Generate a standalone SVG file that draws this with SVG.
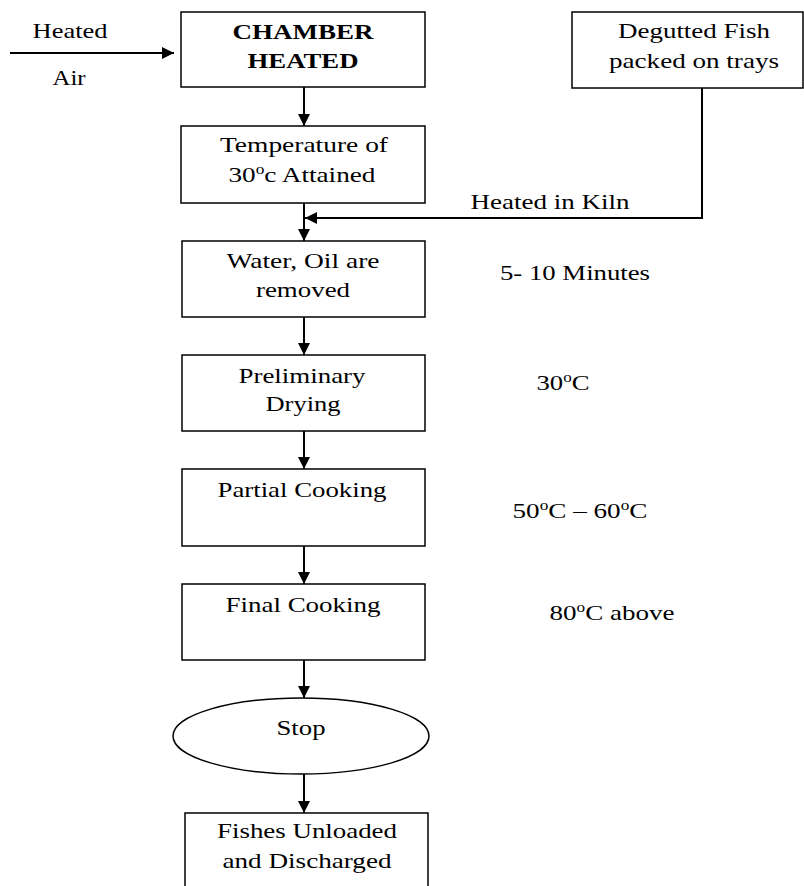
<svg xmlns="http://www.w3.org/2000/svg" width="804" height="886" viewBox="0 0 804 886">
<style>
text{font-family:"Liberation Serif","Times New Roman",serif;font-size:22px;fill:#000;text-anchor:middle}
.b{font-weight:bold}
.box{fill:#fff;stroke:#000;stroke-width:1.5}
.con{fill:none;stroke:#000;stroke-width:2}
.sup{font-size:14px}
</style>
<defs>
<marker id="ah" markerUnits="userSpaceOnUse" markerWidth="12" markerHeight="12" viewBox="0 0 12 12" refX="12" refY="6" orient="auto">
<path d="M0,0 L12,6 L0,12 z" fill="#000"/>
</marker>
</defs>
<g id="connectors">
<line class="con" x1="10" y1="53" x2="174" y2="53" marker-end="url(#ah)"/>
<line class="con" x1="304" y1="87" x2="304" y2="126" marker-end="url(#ah)"/>
<line class="con" x1="304" y1="203" x2="304" y2="241" marker-end="url(#ah)"/>
<polyline class="con" points="702,88 702,218 305,218" marker-end="url(#ah)"/>
<line class="con" x1="304" y1="317" x2="304" y2="355" marker-end="url(#ah)"/>
<line class="con" x1="304" y1="431" x2="304" y2="469" marker-end="url(#ah)"/>
<line class="con" x1="304" y1="546" x2="304" y2="584" marker-end="url(#ah)"/>
<line class="con" x1="304" y1="660" x2="304" y2="698" marker-end="url(#ah)"/>
<line class="con" x1="304" y1="774" x2="304" y2="813" marker-end="url(#ah)"/>
</g>
<g id="labels">
<text x="70" y="38" textLength="75" lengthAdjust="spacingAndGlyphs">Heated</text>
<text x="69" y="85" textLength="33" lengthAdjust="spacingAndGlyphs">Air</text>
<text x="550" y="209" textLength="159" lengthAdjust="spacingAndGlyphs">Heated in Kiln</text>
<text x="575" y="280" textLength="150" lengthAdjust="spacingAndGlyphs">5- 10 Minutes</text>
<text x="563" y="390" textLength="53" lengthAdjust="spacingAndGlyphs">30<tspan class="sup" dy="-8">o</tspan><tspan dy="8">C</tspan></text>
<text x="580" y="518" textLength="135" lengthAdjust="spacingAndGlyphs">50<tspan class="sup" dy="-8">o</tspan><tspan dy="8">C – 60</tspan><tspan class="sup" dy="-8">o</tspan><tspan dy="8">C</tspan></text>
<text x="612" y="620" textLength="125" lengthAdjust="spacingAndGlyphs">80<tspan class="sup" dy="-8">o</tspan><tspan dy="8">C above</tspan></text>
</g>
<g id="chamber">
<rect class="box" x="181" y="12" width="244" height="75"/>
<text class="b" x="303" y="39" textLength="141" lengthAdjust="spacingAndGlyphs">CHAMBER</text>
<text class="b" x="303" y="68" textLength="111" lengthAdjust="spacingAndGlyphs">HEATED</text>
</g>
<g id="degutted">
<rect class="box" x="572" y="12" width="231" height="76"/>
<text x="694" y="38" textLength="152" lengthAdjust="spacingAndGlyphs">Degutted Fish</text>
<text x="694" y="68" textLength="170" lengthAdjust="spacingAndGlyphs">packed on trays</text>
</g>
<g id="temperature">
<rect class="box" x="181" y="126" width="244" height="77"/>
<text x="304" y="152" textLength="168" lengthAdjust="spacingAndGlyphs">Temperature of</text>
<text x="302" y="182" textLength="147" lengthAdjust="spacingAndGlyphs">30<tspan class="sup" dy="-8">o</tspan><tspan dy="8">c Attained</tspan></text>
</g>
<g id="water">
<rect class="box" x="182" y="241" width="243" height="76"/>
<text x="303" y="268" textLength="153" lengthAdjust="spacingAndGlyphs">Water, Oil are</text>
<text x="303" y="297" textLength="94" lengthAdjust="spacingAndGlyphs">removed</text>
</g>
<g id="preliminary">
<rect class="box" x="182" y="355" width="243" height="76"/>
<text x="302" y="383" textLength="127" lengthAdjust="spacingAndGlyphs">Preliminary</text>
<text x="303" y="411" textLength="75" lengthAdjust="spacingAndGlyphs">Drying</text>
</g>
<g id="partial">
<rect class="box" x="182" y="469" width="243" height="77"/>
<text x="302" y="497" textLength="169" lengthAdjust="spacingAndGlyphs">Partial Cooking</text>
</g>
<g id="final">
<rect class="box" x="182" y="584" width="243" height="76"/>
<text x="303" y="612" textLength="155" lengthAdjust="spacingAndGlyphs">Final Cooking</text>
</g>
<g id="stop">
<ellipse class="box" cx="301" cy="736" rx="128" ry="38"/>
<text x="301" y="735" textLength="49" lengthAdjust="spacingAndGlyphs">Stop</text>
</g>
<g id="unloaded">
<rect class="box" x="185" y="813" width="243" height="80"/>
<text x="307" y="838" textLength="180" lengthAdjust="spacingAndGlyphs">Fishes Unloaded</text>
<text x="307" y="868" textLength="169" lengthAdjust="spacingAndGlyphs">and Discharged</text>
</g>
</svg>
